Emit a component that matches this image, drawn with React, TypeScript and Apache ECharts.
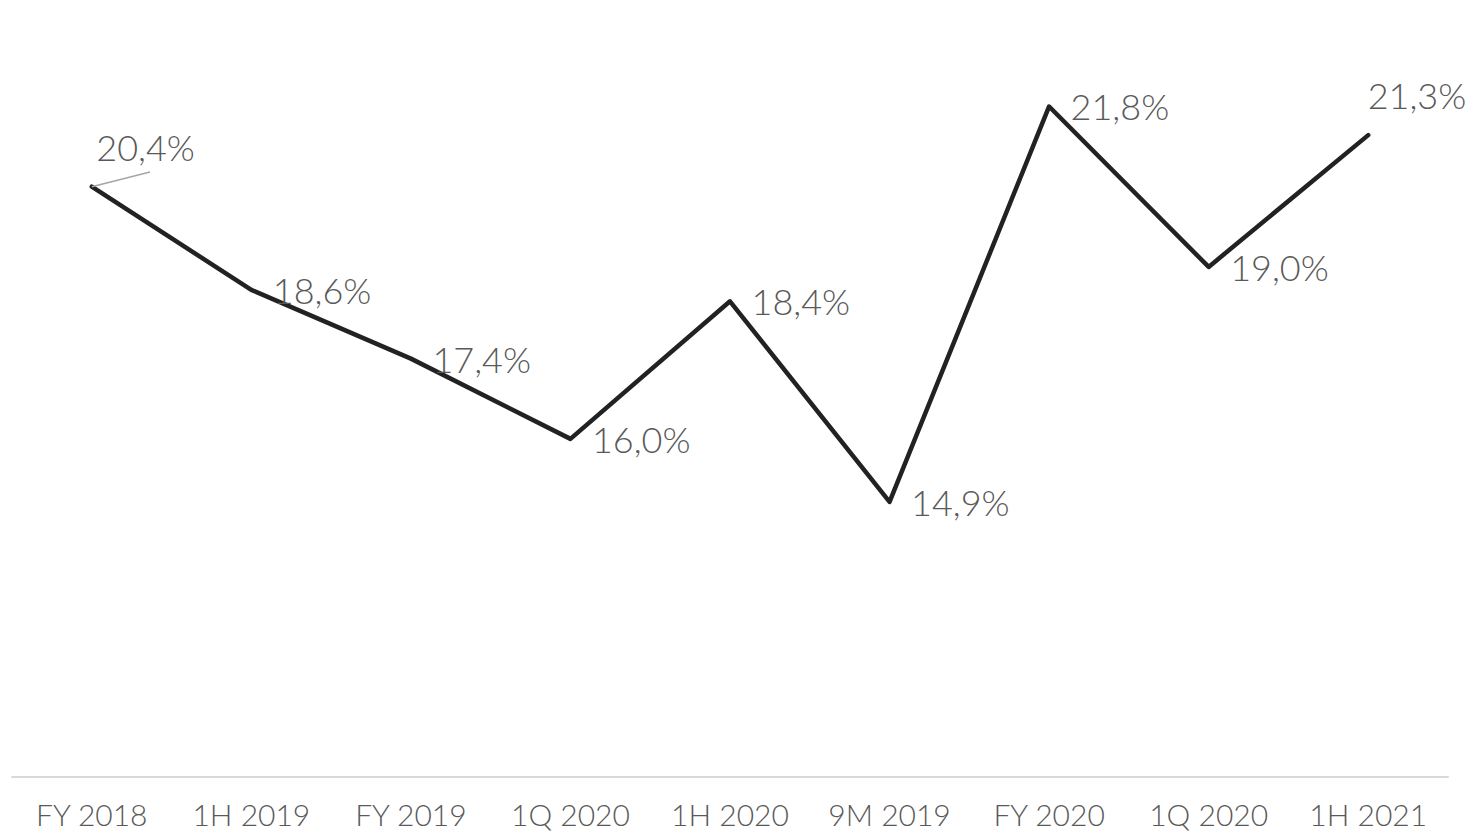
import React, { useEffect, useRef } from "react";
import * as echarts from "echarts";

const categories = ["FY 2018", "1H 2019", "FY 2019", "1Q 2020", "1H 2020", "9M 2019", "FY 2020", "1Q 2020", "1H 2021"];
const values = [20.4, 18.6, 17.4, 16.0, 18.4, 14.9, 21.8, 19.0, 21.3];

const fmt = (v: number) => v.toFixed(1).replace(".", ",") + "%";

export default function App() {
  const ref = useRef<HTMLDivElement>(null);
  useEffect(() => {
    if (!ref.current) return;
    const chart = echarts.init(ref.current, undefined, { renderer: "svg" });
    const font = "Lato";
    chart.setOption({
      animation: false,
      grid: { left: 12, right: 28, top: 95, bottom: 58, containLabel: false },
      xAxis: {
        type: "category",
        data: categories,
        boundaryGap: true,
        axisLine: { show: true, lineStyle: { color: "#d9d9d9", width: 2 } },
        axisTick: { show: false },
        axisLabel: {
          color: "#595959",
          fontFamily: font,
          fontWeight: 300,
          fontSize: 30,
          margin: 22,
          interval: 0,
        },
      },
      yAxis: {
        type: "value",
        min: 10.1,
        max: 22,
        show: false,
        splitLine: { show: false },
      },
      series: [
        {
          type: "line",
          data: values,
          symbol: "circle",
          symbolSize: 1,
          showSymbol: true,
          itemStyle: { color: "#222222" },
          lineStyle: { color: "#222222", width: 4.5, join: "round", cap: "round" },
          label: {
            show: true,
            position: "right",
            distance: 21,
            offset: [0, 3],
            color: "#595959",
            fontFamily: font,
            fontWeight: 300,
            fontSize: 36,
            formatter: (p: any) => fmt(p.value),
          },
          labelLayout: (p: any) => {
            if (p.dataIndex === 0) return { dx: -17, dy: -40 };
            if (p.dataIndex === values.length - 1) return { dx: -22, dy: -40 };
            return {};
          },
          markLine: {
            silent: true,
            symbol: ["none", "none"],
            label: { show: false },
            lineStyle: { color: "#a6a6a6", width: 1.5, type: "solid" },
            data: [[{ coord: [0, values[0]] }, { x: 150, y: 172 }]],
          },
        },
      ],
    });
    return () => chart.dispose();
  }, []);
  return (
    <div
      ref={ref}
      style={{ position: "fixed", left: 0, top: 0, width: 1476, height: 835, background: "#fff" }}
    />
  );
}
